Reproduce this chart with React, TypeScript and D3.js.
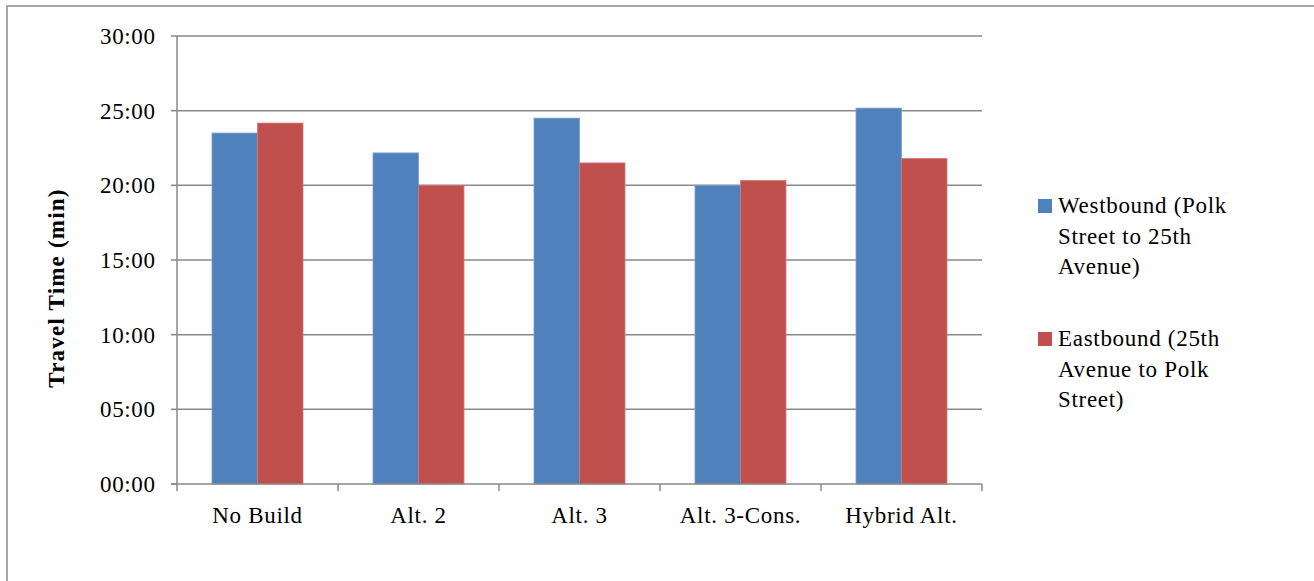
import React from "react";
import * as d3 from "d3";

const categories = ["No Build", "Alt. 2", "Alt. 3", "Alt. 3-Cons.", "Hybrid Alt."];
const westbound = [23.5, 22.17, 24.5, 20.0, 25.17];
const eastbound = [24.17, 20.0, 21.5, 20.33, 21.8];
const seriesNames = [
  ["Westbound (Polk", "Street to 25th", "Avenue)"],
  ["Eastbound (25th", "Avenue to Polk", "Street)"],
];
const seriesColors = ["#4F81BD", "#C0504D"];
const seriesEdges = ["#7A9FD0", "#D27A77"];
const yTicks = [0, 5, 10, 15, 20, 25, 30];

const W = 1314;
const H = 581;
const plot = { left: 177, right: 982, top: 36, bottom: 484 };
const FONT = "Liberation Serif";

function fmt(v: number) {
  const m = Math.floor(v);
  const s = Math.round((v - m) * 60);
  return `${String(m).padStart(2, "0")}:${String(s).padStart(2, "0")}`;
}

export default function App() {
  const x = d3.scaleBand<string>().domain(categories).range([plot.left, plot.right]).paddingInner(0).paddingOuter(0);
  const y = d3.scaleLinear().domain([0, 30]).range([plot.bottom, plot.top]);
  const bw = x.bandwidth();
  const groupW = bw * (91 / 161);
  const inner = d3.scaleBand<number>().domain([0, 1]).range([0, groupW]).padding(0);
  const series = [westbound, eastbound];
  const grid = "#898989";
  const fs = 23;
  const ls = 0.7;

  return (
    <svg width={W} height={H} style={{ position: "absolute", left: 0, top: 0, display: "block" }}>
      <rect x={0} y={0} width={W} height={H} fill="#fff" />
      <rect x={7} y={6} width={W + 20} height={H + 20} fill="none" stroke="#8a8a8a" strokeWidth={1.5} />
      {yTicks.map((t) => (
        <g key={t}>
          {t > 0 && (
            <line x1={plot.left} x2={plot.right} y1={y(t)} y2={y(t)} stroke={grid} strokeWidth={1.5} />
          )}
          <line x1={plot.left - 6} x2={plot.left} y1={y(t)} y2={y(t)} stroke={grid} strokeWidth={1.5} />
          <text x={155} y={y(t)} dy="0.35em" textAnchor="end" fontFamily={FONT} fontSize={fs} fill="#000"
            textLength={55} lengthAdjust="spacing">
            {fmt(t)}
          </text>
        </g>
      ))}
      {categories.map((c, i) => {
        const x0 = (x(c) as number) + (bw - groupW) / 2;
        return (
          <g key={c}>
            {series.map((s, k) => (
              <rect
                key={k}
                x={x0 + (inner(k) as number)}
                y={y(s[i])}
                width={inner.bandwidth()}
                height={y(0) - y(s[i])}
                fill={seriesColors[k]}
                stroke={seriesEdges[k]}
                strokeWidth={0.8}
              />
            ))}
          </g>
        );
      })}
      <line x1={plot.left} x2={plot.left} y1={plot.top} y2={plot.bottom} stroke={grid} strokeWidth={1.5} />
      <line x1={plot.left - 6} x2={plot.right} y1={plot.bottom} y2={plot.bottom} stroke={grid} strokeWidth={1.5} />
      {categories.concat([""]).map((c, i) => {
        const xx = plot.left + i * bw;
        return <line key={i} x1={xx} x2={xx} y1={plot.bottom} y2={plot.bottom + 7} stroke={grid} strokeWidth={1.5} />;
      })}
      {categories.map((c) => (
        <text key={c} x={(x(c) as number) + bw / 2} y={523} textAnchor="middle" fontFamily={FONT} fontSize={fs}
          letterSpacing={ls} fill="#000">
          {c}
        </text>
      ))}
      <text
        transform="translate(64,288) rotate(-90)"
        textAnchor="middle"
        fontFamily={FONT}
        fontSize={fs}
        fontWeight="bold"
        letterSpacing={1.2}
        fill="#000"
      >
        Travel Time (min)
      </text>
      {seriesNames.map((lines, k) => {
        const top = k === 0 ? 205 : 338;
        return (
          <g key={k}>
            <rect x={1038} y={top - 6} width={14} height={14} fill={seriesColors[k]} />
            {lines.map((ln, j) => (
              <text key={j} x={1058} y={top + j * 30.5} dy="0.35em" fontFamily={FONT} fontSize={fs}
                letterSpacing={ls} fill="#000">
                {ln}
              </text>
            ))}
          </g>
        );
      })}
    </svg>
  );
}
